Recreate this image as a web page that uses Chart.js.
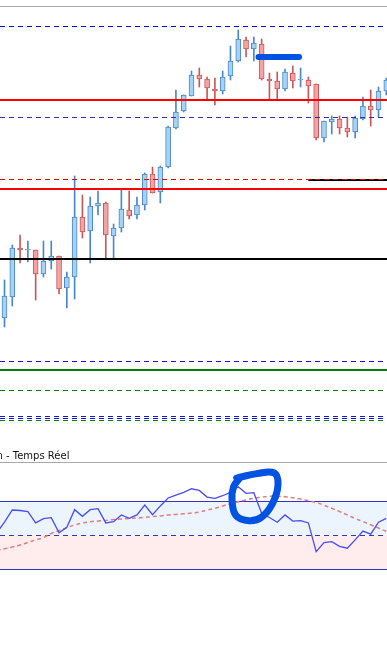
<!DOCTYPE html>
<html lang="fr">
<head>
<meta charset="utf-8">
<title>Temps Réel</title>
<script src="https://cdn.jsdelivr.net/npm/chart.js@4.4.1/dist/chart.umd.min.js"></script>
<style>
    html, body { margin: 0; padding: 0; background: #fff; }
    body { width: 387px; height: 655px; position: relative; overflow: hidden; }
    #mainChart { position: absolute; left: 0; top: 0; }
    #oscChart { position: absolute; left: 0; top: 463px; }
    .panel-top { position: absolute; left: 0; width: 387px; height: 0; border-top: 1px solid #a9a9a9; }
    #oscLabel {
        position: absolute; left: -3.5px; top: 451px;
        font: 10px/10px "DejaVu Sans", Verdana, sans-serif; color: #111; white-space: nowrap;
    }
</style>
</head>
<body>
<div class="panel-top" style="top:6px"></div>
<canvas id="mainChart" width="387" height="455"></canvas>
<div id="oscLabel">n - Temps Réel</div>
<div class="panel-top" style="top:462px"></div>
<canvas id="oscChart" width="387" height="192"></canvas>

<script>
// ==============================================
// 数据：K线（按顺序，每根一个位置）
// ==============================================
const openPrices  = [1.1682, 1.1703, 1.1752, 1.1750, 1.1750, 1.1726, 1.1739, 1.1744, 1.1712, 1.1723,
                     1.1783, 1.1769, 1.1794, 1.1797, 1.1764, 1.1772, 1.1790, 1.1785, 1.1795, 1.1826,
                     1.1808, 1.1833, 1.1872, 1.1889, 1.1904, 1.1925, 1.1921, 1.1911, 1.1909, 1.1924,
                     1.1939, 1.1960, 1.1951, 1.1956, 1.1921, 1.1919, 1.1911, 1.1927, 1.1920, 1.1920,
                     1.1916, 1.1862, 1.1878, 1.1881, 1.1872, 1.1868, 1.1881, 1.1894, 1.1890, 1.1909];
const highPrices  = [1.1720, 1.1755, 1.1765, 1.1759, 1.1750, 1.1759, 1.1759, 1.1744, 1.1728, 1.1824,
                     1.1805, 1.1803, 1.1809, 1.1798, 1.1776, 1.1810, 1.1809, 1.1803, 1.1827, 1.1833,
                     1.1834, 1.1874, 1.1910, 1.1905, 1.1929, 1.1932, 1.1923, 1.1922, 1.1929, 1.1954,
                     1.1970, 1.1963, 1.1963, 1.1961, 1.1927, 1.1928, 1.1931, 1.1934, 1.1932, 1.1923,
                     1.1916, 1.1879, 1.1884, 1.1884, 1.1883, 1.1884, 1.1903, 1.1910, 1.1913, 1.1922];
const lowPrices   = [1.1673, 1.1694, 1.1737, 1.1738, 1.1700, 1.1723, 1.1731, 1.1706, 1.1692, 1.1701,
                     1.1762, 1.1737, 1.1785, 1.1742, 1.1742, 1.1768, 1.1781, 1.1781, 1.1790, 1.1807,
                     1.1797, 1.1832, 1.1871, 1.1888, 1.1904, 1.1913, 1.1901, 1.1895, 1.1906, 1.1920,
                     1.1938, 1.1943, 1.1939, 1.1920, 1.1901, 1.1901, 1.1909, 1.1912, 1.1913, 1.1897,
                     1.1860, 1.1858, 1.1866, 1.1866, 1.1863, 1.1862, 1.1880, 1.1874, 1.1883, 1.1905];
const closePrices = [1.1704, 1.1752, 1.1750, 1.1750, 1.1726, 1.1739, 1.1744, 1.1711, 1.1723, 1.1783,
                     1.1768, 1.1794, 1.1797, 1.1765, 1.1772, 1.1791, 1.1784, 1.1795, 1.1826, 1.1807,
                     1.1833, 1.1873, 1.1888, 1.1905, 1.1925, 1.1921, 1.1912, 1.1909, 1.1923, 1.1939,
                     1.1961, 1.1951, 1.1957, 1.1921, 1.1919, 1.1911, 1.1928, 1.1919, 1.1920, 1.1914,
                     1.1862, 1.1879, 1.1881, 1.1872, 1.1868, 1.1882, 1.1894, 1.1890, 1.1909, 1.1920];

// 水平价位线
const levelPrices = [1.19735, 1.1900, 1.18825, 1.18205, 1.1811, 1.1741, 1.16385, 1.1630, 1.16095, 1.15835, 1.15815, 1.15795];
const levelStyles = [
    { color: '#0000ff', width: 1, dash: [5, 4] },
    { color: '#ff0000', width: 2, dash: [] },
    { color: '#3030c0', width: 1, dash: [5, 4] },
    { color: '#e00000', width: 1, dash: [5, 4] },
    { color: '#ff0000', width: 2, dash: [] },
    { color: '#000000', width: 2, dash: [] },
    { color: '#1414e0', width: 1, dash: [5, 4] },
    { color: '#008000', width: 2, dash: [] },
    { color: '#008000', width: 1, dash: [5, 4] },
    { color: '#1414e0', width: 1, dash: [5, 4] },
    { color: '#1414e0', width: 1, dash: [5, 4] },
    { color: '#008000', width: 1, dash: [5, 4] }
];
const partialLevelPrice = 1.1820;   // 黑线，从第39根K线开始
const partialLevelStart = 39;

// ==============================================
// 数据：振荡指标（从第 -1 根开始）
// ==============================================
const oscStart = -1;
const oscValues = [51.5, 57.9, 65.0, 64.7, 64.1, 57.4, 59.9, 60.5, 51.6, 54.8,
                   65.2, 61.3, 65.2, 65.8, 57.4, 58.1, 62.1, 60.1, 62.1, 67.9,
                   62.2, 67.4, 72.1, 73.8, 75.4, 77.5, 76.5, 72.6, 71.9, 73.4,
                   75.4, 78.7, 74.8, 75.2, 63.1, 60.6, 57.8, 62.1, 58.5, 58.8,
                   57.4, 40.5, 45.8, 46.4, 43.6, 42.5, 47.4, 52.6, 50.8, 57.8, 60.1];
const signalValues = [41.2, 42.2, 43.2, 44.4, 45.9, 47.4, 48.8, 51.2, 52.9, 54.6,
                      56.2, 57.4, 58.1, 58.5, 58.9, 59.4, 59.7, 60.0, 60.3, 60.7,
                      61.1, 61.5, 62.1, 62.4, 62.8, 63.2, 63.8, 65.0, 66.0, 67.4,
                      68.7, 69.9, 70.9, 71.9, 72.5, 73.1, 73.1, 72.8, 72.2, 71.5,
                      70.6, 69.4, 67.8, 66.0, 64.1, 62.1, 60.0, 58.2, 56.3, 54.4, 52.4];
const oscBands = [70, 50, 30];

// 手绘标记（K线序号 / 数值坐标）
const markStrokeIndex = [32.6, 37.8];
const markStrokePrice = 1.1943;
const markCircleIndex = [29.8, 32.4, 34.6, 35.1, 34.4, 33.0, 31.4, 29.7, 29.2, 29.4, 30.2];
const markCircleValue = [83.8, 86.4, 86.8, 79.7, 68.9, 60.8, 58.7, 61.8, 70.9, 78.7, 83.8];

// 坐标轴范围
const X_MIN = -0.5775, X_MAX = 49.089;
const PRICE_MIN = 1.1545, PRICE_MAX = 1.2000;
const OSC_MIN = -20.29, OSC_MAX = 92.65;

const UP_FILL = '#a6d2f6', UP_LINE = '#4b87c8';
const DOWN_FILL = '#f4a3a4', DOWN_LINE = '#c8585c';
const MARK_BLUE = '#0052e2';

document.addEventListener('DOMContentLoaded', function () {
    const isUp = i => closePrices[i] >= openPrices[i];

    // ==============================================
    // 主图：K线 + 价位线
    // ==============================================
    const bodyData = openPrices.map((o, i) => ({ x: i, y: [o, closePrices[i]] }));
    const wickData = openPrices.map((o, i) => ({ x: i, y: [lowPrices[i], highPrices[i]] }));

    const levelSets = levelPrices.map((p, k) => ({
        type: 'line',
        data: [{ x: X_MIN, y: p }, { x: X_MAX, y: p }],
        borderColor: levelStyles[k].color,
        borderWidth: levelStyles[k].width,
        borderDash: levelStyles[k].dash,
        pointRadius: 0,
        fill: false,
        order: 0
    }));
    levelSets.push({
        type: 'line',
        data: [{ x: partialLevelStart, y: partialLevelPrice }, { x: X_MAX, y: partialLevelPrice }],
        borderColor: '#000000', borderWidth: 2, pointRadius: 0, fill: false, order: 0
    });

    new Chart(document.getElementById('mainChart').getContext('2d'), {
        type: 'bar',
        data: {
            datasets: [
                {
                    label: 'corps',
                    data: bodyData,
                    barThickness: 5,
                    borderWidth: 1,
                    borderSkipped: false,
                    minBarLength: 1,
                    grouped: false,
                    backgroundColor: ctx => isUp(ctx.dataIndex) ? UP_FILL : DOWN_FILL,
                    borderColor: ctx => isUp(ctx.dataIndex) ? UP_LINE : DOWN_LINE,
                    order: 1
                },
                {
                    label: 'mèche',
                    data: wickData,
                    barThickness: 1,
                    borderWidth: 0,
                    grouped: false,
                    backgroundColor: ctx => isUp(ctx.dataIndex) ? UP_LINE : DOWN_LINE,
                    order: 2
                },
                ...levelSets,
                {
                    type: 'line',
                    data: markStrokeIndex.map(x => ({ x: x, y: markStrokePrice })),
                    borderColor: MARK_BLUE, borderWidth: 6, borderCapStyle: 'round',
                    pointRadius: 0, fill: false, order: -1
                }
            ]
        },
        options: {
            responsive: false,
            animation: false,
            layout: { padding: 0 },
            plugins: { legend: { display: false }, tooltip: { enabled: false } },
            scales: {
                x: { type: 'linear', min: X_MIN, max: X_MAX, offset: false, display: false },
                y: { type: 'linear', min: PRICE_MIN, max: PRICE_MAX, beginAtZero: false, display: false }
            }
        }
    });

    // ==============================================
    // 副图：振荡指标
    // ==============================================
    const bandLine = (v, extra) => Object.assign({
        data: [{ x: X_MIN, y: v }, { x: X_MAX, y: v }],
        borderColor: '#3434c4', borderWidth: 1, pointRadius: 0, fill: false
    }, extra);

    new Chart(document.getElementById('oscChart').getContext('2d'), {
        type: 'line',
        data: {
            datasets: [
                {
                    label: 'oscillateur',
                    data: oscValues.map((v, k) => ({ x: oscStart + k, y: v })),
                    borderColor: '#4b4bf2', borderWidth: 1.3, pointRadius: 0, tension: 0, order: 1
                },
                {
                    label: 'signal',
                    data: signalValues.map((v, k) => ({ x: oscStart + k, y: v })),
                    borderColor: '#e27d7d', borderWidth: 1.5, borderDash: [4, 3],
                    pointRadius: 0, tension: 0.4, order: 2
                },
                bandLine(oscBands[0], { fill: { value: oscBands[1] }, backgroundColor: '#ecf5fe', order: 5 }),
                bandLine(oscBands[1], { borderDash: [5, 4], order: 4 }),
                bandLine(oscBands[2], { fill: { value: oscBands[1] }, backgroundColor: '#ffeded', order: 5 }),
                {
                    label: 'cercle',
                    data: markCircleIndex.map((x, k) => ({ x: x, y: markCircleValue[k] })),
                    borderColor: MARK_BLUE, borderWidth: 7, borderCapStyle: 'round', borderJoinStyle: 'round',
                    pointRadius: 0, tension: 0.4, fill: false, order: -1
                }
            ]
        },
        options: {
            responsive: false,
            animation: false,
            layout: { padding: 0 },
            plugins: { legend: { display: false }, tooltip: { enabled: false } },
            scales: {
                x: { type: 'linear', min: X_MIN, max: X_MAX, display: false },
                y: { type: 'linear', min: OSC_MIN, max: OSC_MAX, display: false }
            }
        }
    });
});
</script>
</body>
</html>
